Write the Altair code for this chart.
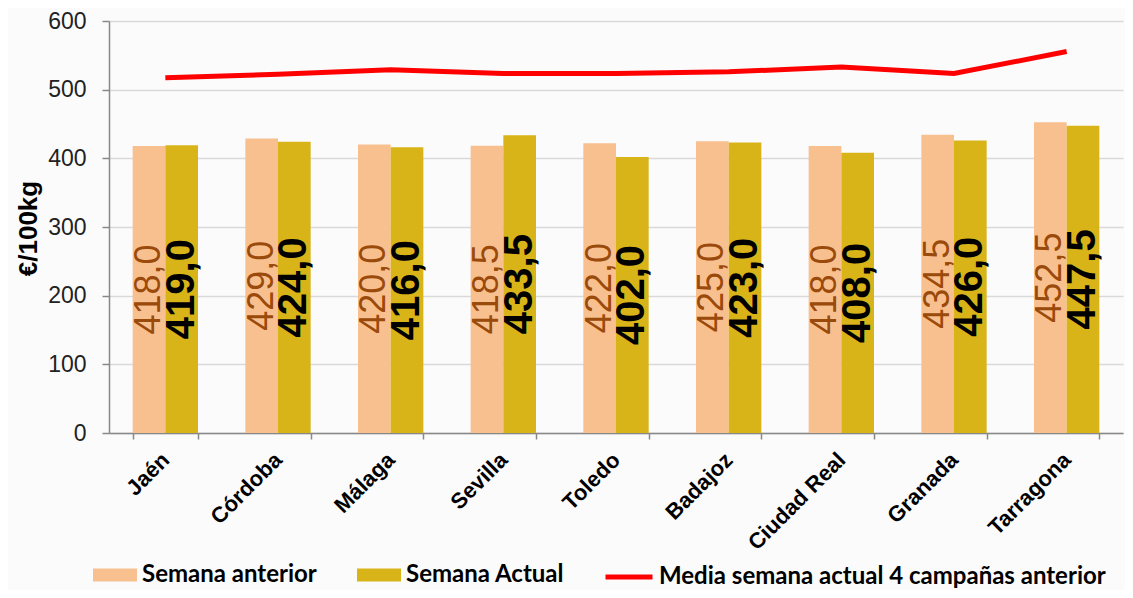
import altair as alt
import pandas as pd

cities = ["Jaén", "Córdoba", "Málaga", "Sevilla", "Toledo", "Badajoz", "Ciudad Real", "Granada", "Tarragona"]
semana_anterior = [418.0, 429.0, 420.0, 418.5, 422.0, 425.0, 418.0, 434.5, 452.5]
semana_actual = [419.0, 424.0, 416.0, 433.5, 402.0, 423.0, 408.0, 426.0, 447.5]
media_4_campanas = [517.5, 522.5, 529.0, 523.5, 523.5, 526.0, 533.0, 523.5, 555.5]

series_names = ["Semana anterior", "Semana Actual"]
line_name = "Media semana actual 4 campañas anterior"

rows = []
for serie, vals in zip(series_names, [semana_anterior, semana_actual]):
    for c, v in zip(cities, vals):
        rows.append({"city": c, "serie": serie, "value": v,
                     "label": f"{v:.1f}".replace(".", ",")})
bars_df = pd.DataFrame(rows)
line_df = pd.DataFrame({"city": cities, "value": media_4_campanas, "serie": line_name})

FONT = "Liberation Sans"

x_enc = alt.X("city:N", sort=cities, title=None,
              scale=alt.Scale(paddingInner=0.42, paddingOuter=0.21),
              axis=alt.Axis(labelAngle=-45, labelFont=FONT, labelFontSize=22,
                            labelFontWeight="bold", labelColor="black",
                            labelAlign="right", labelBaseline="middle",
                            tickBand="extent", tickSize=6, labelPadding=17,
                            domainColor="#888888", tickColor="#888888",
                            domainWidth=1.5, tickWidth=1.5, grid=False))
y_scale = alt.Scale(domain=[0, 600], nice=False)
y_axis = alt.Axis(values=[0, 100, 200, 300, 400, 500, 600], labelFont=FONT,
                  labelFontSize=23, labelColor="#222222", labelPadding=16,
                  tickSize=7, domainColor="#888888", tickColor="#888888",
                  domainWidth=1.5, tickWidth=1.5, gridColor="#d9d9d9", gridWidth=1.5,
                  title="€/100kg", titleFont=FONT, titleFontSize=26,
                  titleFontWeight="bold", titleColor="black",
                  titleAngle=270, titleX=-81, titleY=207,
                  titleAlign="center", titleBaseline="middle")
xoff = alt.XOffset("serie:N", scale=alt.Scale(domain=series_names, paddingInner=0, paddingOuter=0))

base = alt.Chart(bars_df)

bars = base.mark_bar().encode(
    x=x_enc,
    xOffset=xoff,
    y=alt.Y("value:Q", scale=y_scale, axis=y_axis),
    fill=alt.Fill("serie:N", scale=alt.Scale(domain=series_names, range=["#F9C08F", "#D9B418"]),
                  legend=alt.Legend(orient="none", legendX=-16, legendY=532, direction="horizontal",
                                    title=None, symbolType="M-1,-0.3H1V0.3H-1Z", symbolSize=1936,
                                    symbolStrokeWidth=0, symbolOpacity=1, labelFont="Lato",
                                    labelFontWeight="bold", labelFontSize=24, labelColor="black",
                                    labelOffset=5, columnPadding=40, padding=0, labelLimit=0)),
)

lab1 = base.transform_filter(alt.datum.serie == series_names[0]).transform_calculate(
    mid="datum.value / 2").mark_text(angle=270, align="center", baseline="middle",
                                     font=FONT, fontSize=36, color="#9A4A0A").encode(
    x=alt.X("city:N", sort=cities), xOffset=xoff, y=alt.Y("mid:Q", scale=y_scale), text="label:N")

lab2 = base.transform_filter(alt.datum.serie == series_names[1]).transform_calculate(
    mid="datum.value / 2").mark_text(angle=270, align="center", baseline="middle",
                                     font=FONT, fontSize=40, fontWeight="bold", color="black").encode(
    x=alt.X("city:N", sort=cities), xOffset=xoff, y=alt.Y("mid:Q", scale=y_scale), text="label:N")

line = alt.Chart(line_df).mark_line(strokeWidth=5).encode(
    x=alt.X("city:N", sort=cities),
    y=alt.Y("value:Q", scale=y_scale),
    stroke=alt.Stroke("serie:N", scale=alt.Scale(domain=[line_name], range=["#FF0000"]),
                      legend=alt.Legend(orient="none", legendX=494, legendY=530, title=None,
                                        symbolType="stroke", symbolSize=2209, symbolStrokeWidth=5,
                                        labelFont="Lato", labelFontWeight="bold", labelFontSize=24,
                                        labelColor="black", labelOffset=4, padding=0, labelLimit=0)),
)

chart = alt.layer(bars, lab1, lab2, line).properties(
    width=1014, height=412,
    autosize=alt.AutoSizeParams(type="none"),
    padding={"left": 101, "top": 13, "right": 2, "bottom": 157},
    background="#fbfbfc",
).configure_view(stroke=None)

chart.save("out.html", embed_options={"renderer": "svg", "actions": False})
